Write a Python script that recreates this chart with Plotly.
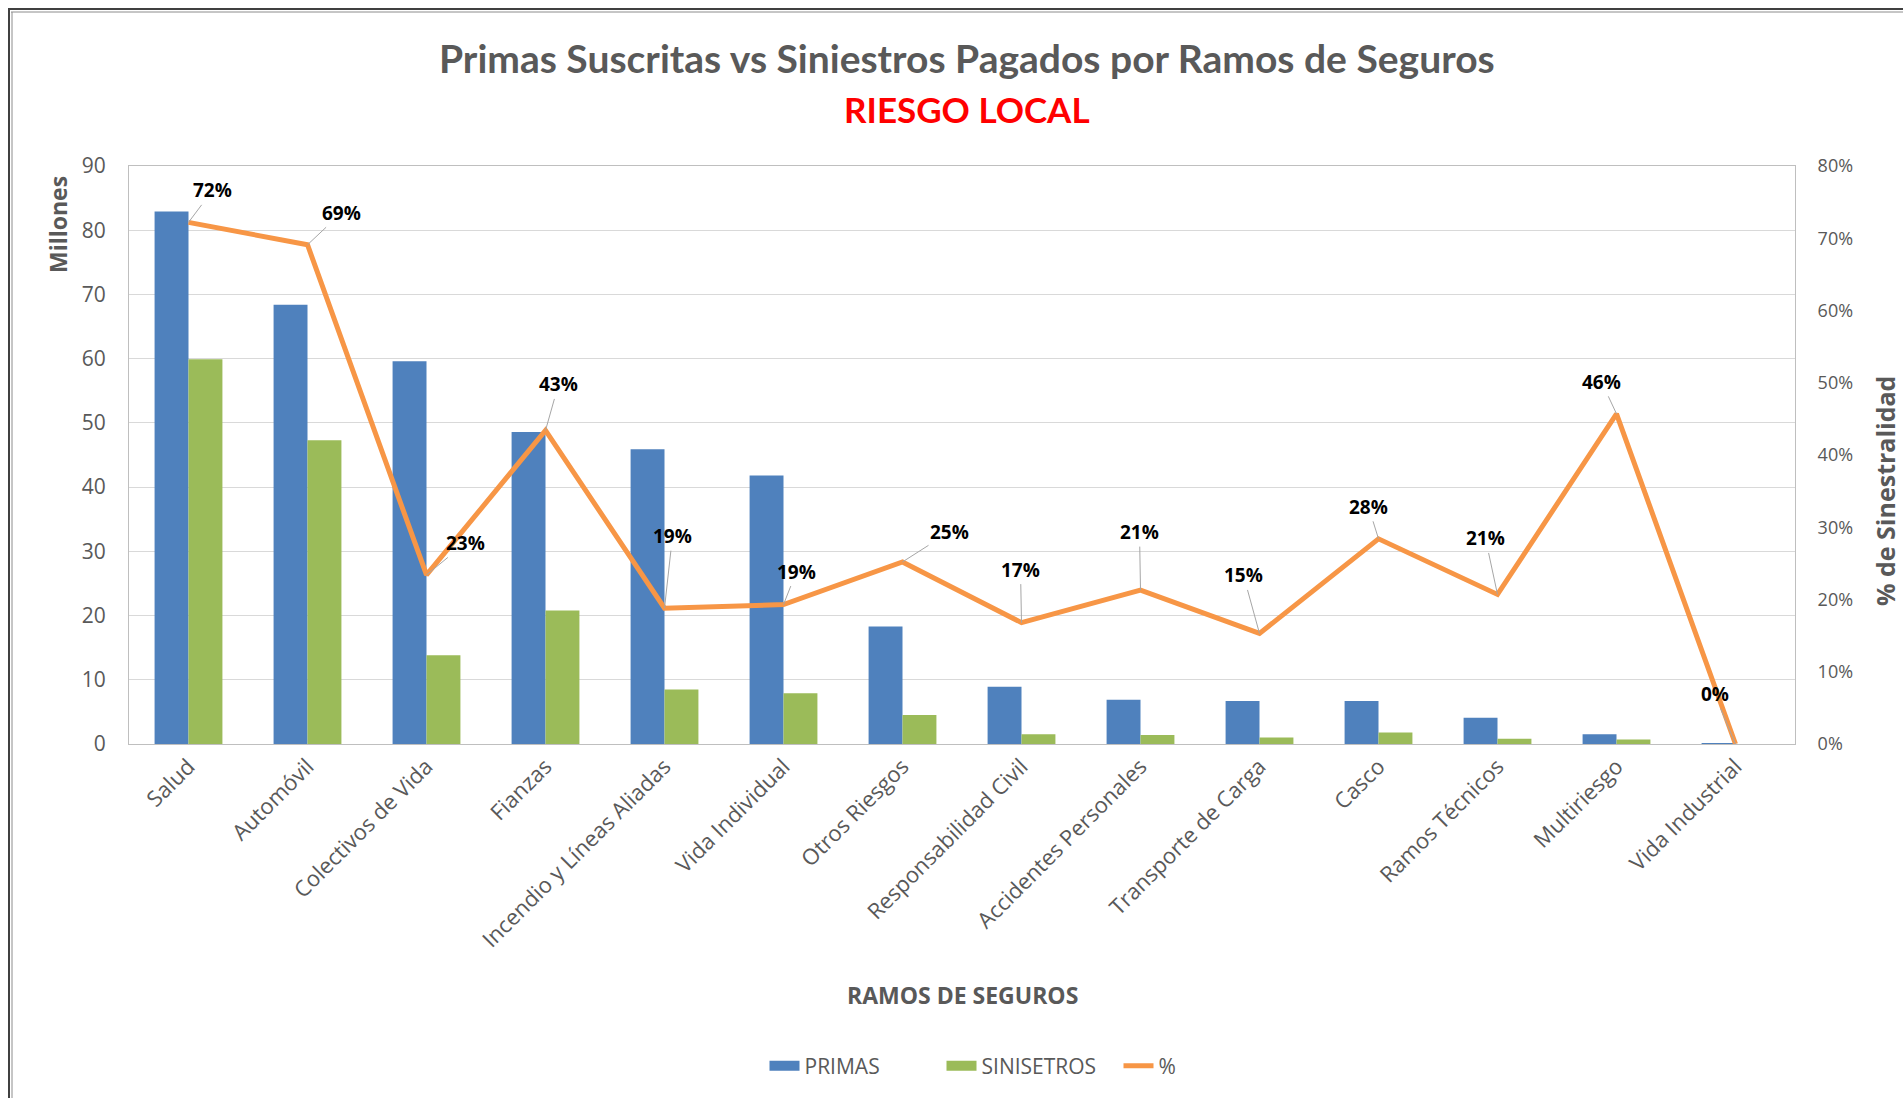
import plotly.graph_objects as go

categorias = ["Salud", "Automóvil", "Colectivos de Vida", "Fianzas", "Incendio y Líneas Aliadas",
              "Vida Individual", "Otros Riesgos", "Responsabilidad Civil", "Accidentes Personales",
              "Transporte de Carga", "Casco", "Ramos Técnicos", "Multiriesgo", "Vida Industrial"]
primas = [82.9, 68.4, 59.6, 48.6, 45.9, 41.8, 18.3, 8.9, 6.9, 6.7, 6.7, 4.1, 1.5, 0.1]
siniestros = [59.9, 47.3, 13.8, 20.8, 8.5, 7.9, 4.5, 1.5, 1.4, 1.0, 1.8, 0.8, 0.7, 0.0]
porcentaje = [0.722, 0.691, 0.234, 0.434, 0.188, 0.193, 0.252, 0.168, 0.213, 0.153, 0.284, 0.207, 0.457, 0.0]
# label offsets (px) of the data labels relative to their points
label_dx = [24, 34, 39, 13, 8, 13, 47, -1, -1, -16, -10, -12, -15, -21]
label_dy = [-32, -32, -32, -46, -72, -33, -30, -53, -58, -58, -32, -56, -32, -50]

W, H = 1903, 1098
L, R, T, B = 129, 1795, 166, 744
pw, ph = R - L, B - T

def px(x):
    return (x - L) / pw

def py(y):
    return (B - y) / ph

GRAY = "#595959"
FONT = "Open Sans"
BLUE, GREEN, ORANGE = "#4F81BD", "#9BBB59", "#F79646"

fig = go.Figure()
fig.add_trace(go.Bar(x=categorias, y=primas, name="PRIMAS", marker_color=BLUE,
                     marker_line_width=0, showlegend=False))
fig.add_trace(go.Bar(x=categorias, y=siniestros, name="SINISETROS", marker_color=GREEN,
                     marker_line_width=0, showlegend=False))
fig.add_trace(go.Scatter(x=categorias, y=porcentaje, name="%", mode="lines", yaxis="y2",
                         line=dict(color=ORANGE, width=5), showlegend=False))
# legend entries (wide swatches like the original)
for name, col, w in [("PRIMAS", BLUE, 12), ("SINISETROS", GREEN, 12), ("%", ORANGE, 5)]:
    fig.add_trace(go.Scatter(x=[None], y=[None], mode="lines", name=name,
                             line=dict(color=col, width=w)))

annotations = []
for c, v, dx, dy in zip(categorias, porcentaje, label_dx, label_dy):
    annotations.append(dict(x=c, y=v, xref="x", yref="y2", text=f"<b>{round(v*100)}%</b>",
                            showarrow=True, ax=dx, ay=dy, arrowhead=0, arrowwidth=1,
                            arrowcolor="#A6A6A6", standoff=0, startstandoff=0,
                            font=dict(family=FONT, size=19, color="black")))

annotations += [
    dict(x=px(967), y=py(58), xref="paper", yref="paper", showarrow=False,
         text="<b>Primas Suscritas vs Siniestros Pagados por Ramos de Seguros</b>",
         font=dict(family="Lato", size=39, color=GRAY), xanchor="center", yanchor="middle"),
    dict(x=px(967), y=py(109), xref="paper", yref="paper", showarrow=False,
         text="<b>RIESGO LOCAL</b>",
         font=dict(family="Lato", size=35, color="#FF0000"), xanchor="center", yanchor="middle"),
    dict(x=px(58), y=py(225), xref="paper", yref="paper", showarrow=False, textangle=-90,
         text="<b>Millones</b>", font=dict(family=FONT, size=23, color=GRAY),
         xanchor="center", yanchor="middle"),
    dict(x=px(1885), y=py(491), xref="paper", yref="paper", showarrow=False, textangle=-90,
         text="<b>% de Sinestralidad</b>", font=dict(family=FONT, size=25, color=GRAY),
         xanchor="center", yanchor="middle"),
    dict(x=px(962), y=py(995), xref="paper", yref="paper", showarrow=False,
         text="<b>RAMOS DE SEGUROS</b>", font=dict(family=FONT, size=23, color=GRAY),
         xanchor="center", yanchor="middle"),
]

shapes = [
    dict(type="line", xref="paper", yref="paper", x0=px(8), x1=px(1903), y0=py(9), y1=py(9),
         line=dict(color="#404040", width=2)),
    dict(type="line", xref="paper", yref="paper", x0=px(11), x1=px(1903), y0=py(12), y1=py(12),
         line=dict(color="#8C8C8C", width=1)),
    dict(type="line", xref="paper", yref="paper", x0=px(9), x1=px(9), y0=py(9), y1=py(1098),
         line=dict(color="#404040", width=2)),
    dict(type="line", xref="paper", yref="paper", x0=px(12), x1=px(12), y0=py(12), y1=py(1098),
         line=dict(color="#8C8C8C", width=1)),
]

fig.update_layout(
    width=W, height=H,
    margin=dict(l=L, r=W - R, t=T, b=H - B, autoexpand=False),
    paper_bgcolor="white", plot_bgcolor="white",
    barmode="group", bargap=0.43, bargroupgap=0,
    font=dict(family=FONT, color=GRAY),
    xaxis=dict(tickangle=-45, tickfont=dict(size=22, color=GRAY), showline=True,
               linecolor="#BFBFBF", mirror=True, ticks="", showgrid=False),
    yaxis=dict(range=[0, 90], dtick=10, tickfont=dict(size=21, color=GRAY),
               gridcolor="#D9D9D9", showline=True, linecolor="#BFBFBF", mirror=True,
               zeroline=False, ticks="outside", ticklen=18, tickcolor="white"),
    yaxis2=dict(range=[0, 0.8], dtick=0.1, tickformat=".0%", overlaying="y", side="right",
                tickfont=dict(size=18, color=GRAY), showgrid=False, zeroline=False,
                ticks="outside", ticklen=18, tickcolor="white"),
    legend=dict(orientation="h", x=px(1030), xanchor="center", y=py(1066), yanchor="middle",
                font=dict(size=21, color=GRAY), traceorder="normal",
                entrywidth=132, entrywidthmode="pixels"),
    annotations=annotations, shapes=shapes,
    showlegend=True,
)

fig.write_html("out.html", post_script="document.body.style.margin='0';",
               config={"displayModeBar": False})
